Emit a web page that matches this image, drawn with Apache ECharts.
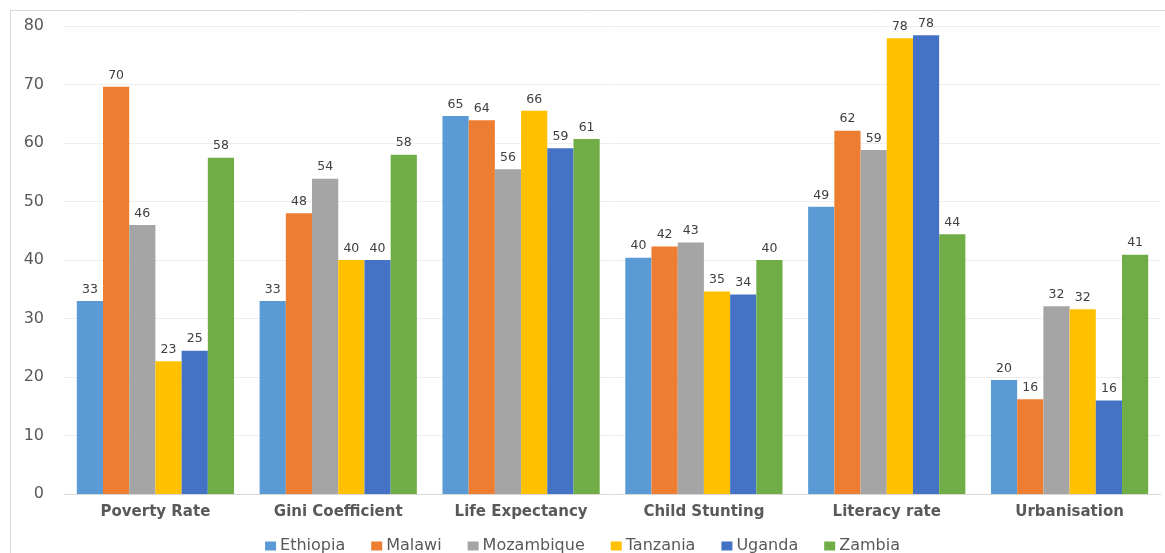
<!DOCTYPE html>
<html>
<head>
<meta charset="utf-8">
<script src="https://cdn.jsdelivr.net/npm/echarts@6/dist/echarts.min.js"></script>
<style>
html,body{margin:0;padding:0;background:#fff;}
#chart{width:1165px;height:553px;}
</style>
</head>
<body>
<div id="chart"></div>
<script>
var categories = ['Poverty Rate', 'Gini Coefficient', 'Life Expectancy', 'Child Stunting', 'Literacy rate', 'Urbanisation'];
var ethiopia   = [33.0, 33.0, 64.6, 40.4, 49.1, 19.5];
var malawi     = [69.6, 48.0, 63.9, 42.3, 62.1, 16.2];
var mozambique = [46.0, 53.9, 55.5, 43.0, 58.8, 32.1];
var tanzania   = [22.7, 40.0, 65.5, 34.6, 77.9, 31.6];
var uganda     = [24.5, 40.0, 59.1, 34.1, 78.4, 16.0];
var zambia     = [57.5, 58.0, 60.7, 40.0, 44.4, 40.9];
var seriesNames = ['Ethiopia', 'Malawi', 'Mozambique', 'Tanzania', 'Uganda', 'Zambia'];
var yTicks = [0, 10, 20, 30, 40, 50, 60, 70, 80];

var colors = ['#5B9BD5', '#ED7D31', '#A5A5A5', '#FFC000', '#4472C4', '#70AD47'];
var seriesData = [ethiopia, malawi, mozambique, tanzania, uganda, zambia];

var chart = echarts.init(document.getElementById('chart'), null, {renderer: 'canvas'});
var option = {
  animation: false,
  backgroundColor: '#ffffff',
  color: colors,
  graphic: [{
    type: 'rect',
    shape: {x: 10.5, y: 10.5, width: 1170, height: 570},
    style: {fill: 'none', stroke: '#d9d9d9', lineWidth: 1},
    silent: true,
    z: -1
  }],
  grid: {left: 64, right: 4, top: 26, bottom: 59, containLabel: false},
  legend: {
    data: seriesNames,
    left: 'center',
    top: 533,
    itemWidth: 11,
    itemHeight: 9,
    itemGap: 26,
    icon: 'rect',
    textStyle: {fontFamily: 'DejaVu Sans', fontSize: 16, color: '#595959', padding: [0, 0, 0, -1]}
  },
  xAxis: {
    type: 'category',
    data: categories,
    axisTick: {show: false},
    axisLine: {show: true, lineStyle: {color: '#d9d9d9', width: 1}},
    axisLabel: {fontFamily: 'DejaVu Sans', fontWeight: 'bold', fontSize: 15, color: '#595959', margin: 11}
  },
  yAxis: {
    type: 'value',
    min: yTicks[0],
    max: yTicks[yTicks.length - 1],
    interval: yTicks[1] - yTicks[0],
    axisLine: {show: false},
    axisTick: {show: false},
    splitLine: {lineStyle: {color: '#eeeeee', width: 1}},
    axisLabel: {fontFamily: 'DejaVu Sans', fontSize: 16, color: '#595959', margin: 20}
  },
  series: seriesNames.map(function (name, i) {
    return {
      name: name,
      type: 'bar',
      data: seriesData[i],
      barGap: '0%',
      barCategoryGap: '14%',
      itemStyle: {color: colors[i]},
      label: {
        show: true,
        position: 'top',
        distance: 5,
        fontFamily: 'DejaVu Sans',
        fontSize: 12.5,
        color: '#404040',
        formatter: function (p) { return Math.round(p.value); }
      }
    };
  })
};
chart.setOption(option);
</script>
</body>
</html>
